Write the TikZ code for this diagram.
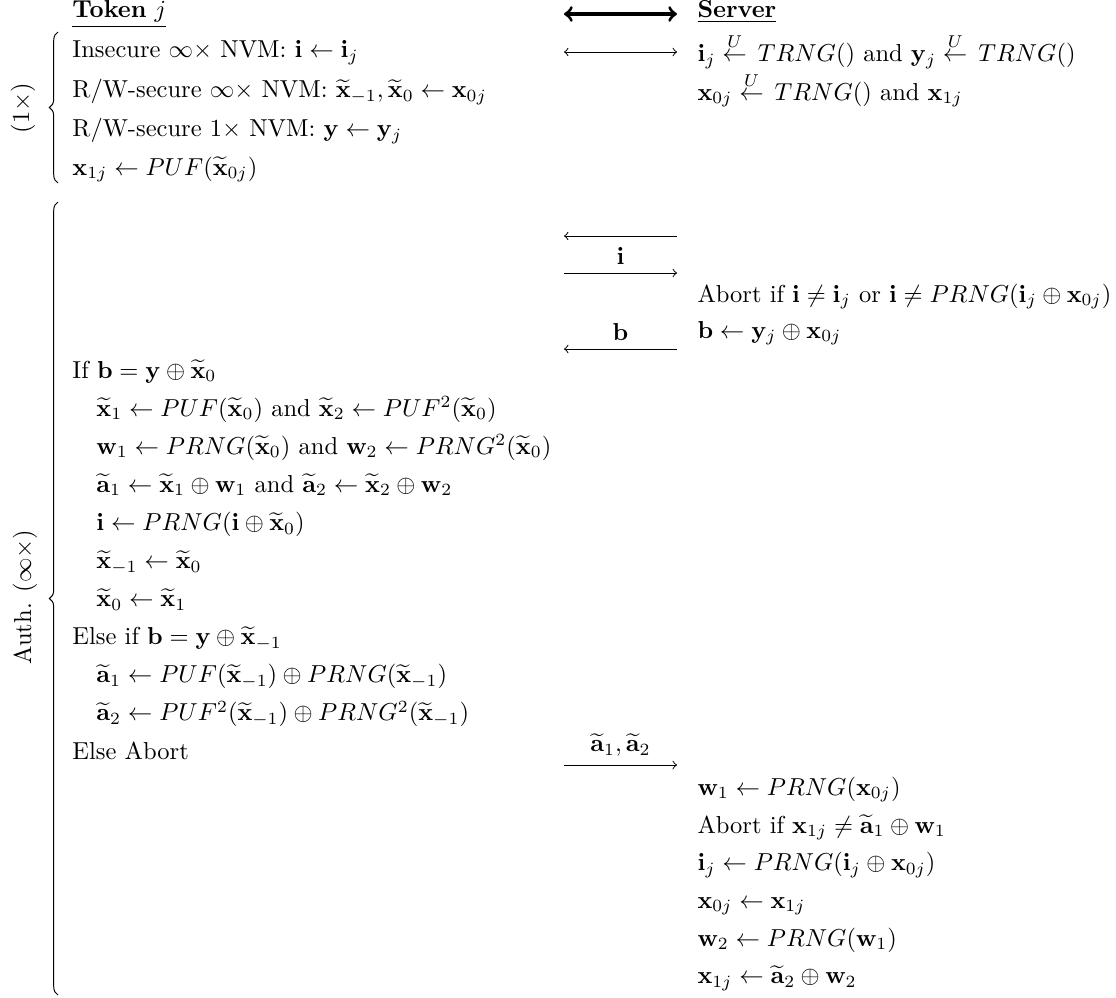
\documentclass[tikz,border=0pt]{standalone}
\usepackage{amsmath,amssymb}
\usetikzlibrary{decorations.pathreplacing}
\newcommand{\pvx}{\mathbf{x}}
\newcommand{\pvi}{\mathbf{i}}
\newcommand{\pvy}{\mathbf{y}}
\newcommand{\pvb}{\mathbf{b}}
\newcommand{\pvw}{\mathbf{w}}
\newcommand{\pvtx}{\widetilde{\mathbf{x}}}
\newcommand{\pvta}{\widetilde{\mathbf{a}}}
\newcommand{\rnd}{\stackrel{U}{\leftarrow}\,}
\begin{document}
\begin{tikzpicture}[x=0.408pt,y=-0.408pt,
  txt/.style={anchor=base west,inner sep=0pt},
  msg/.style={->},
  lbl/.style={above},
  brc/.style={decorate,decoration={brace,amplitude=3.5pt}},
  side/.style={rotate=90,inner sep=0pt}]
\useasboundingbox (0,0) rectangle (1116,997);

% headers
\node[txt] (tok) at (72,18) {\underline{\textbf{Token} $j$}};
\node[txt] (srv) at (697,18) {\underline{\textbf{Server}}};
\coordinate (h0l) at (564,14); \coordinate (h0r) at (677,14);
\draw[<->,line width=1.3pt] (h0l) -- (h0r);

% setup phase
\node[side] (one) at (23,108) {$(1\times)$};
\coordinate (b1b) at (58,183); \coordinate (b1t) at (58,32);
\draw[brc] (b1b) -- (b1t);
\node[txt] (t1) at (72,58) {Insecure $\infty\times$ NVM: $\pvi\leftarrow\pvi_j$};
\node[txt] (t2) at (72,97.5) {R/W-secure $\infty\times$ NVM: $\pvtx_{-1},\pvtx_0\leftarrow\pvx_{0j}$};
\node[txt] (t3) at (72,136.5) {R/W-secure $1\times$ NVM: $\pvy\leftarrow\pvy_j$};
\node[txt] (t4) at (72,175) {$\pvx_{1j}\leftarrow PUF(\pvtx_{0j})$};
\coordinate (s0l) at (564,52); \coordinate (s0r) at (677,52);
\draw[<->] (s0l) -- (s0r);
\node[txt] (s1) at (697,61.5) {$\pvi_j\rnd TRNG()$ and $\pvy_j\rnd TRNG()$};
\node[txt] (s2) at (697,100) {$\pvx_{0j}\rnd TRNG()$ and $\pvx_{1j}$};

% authentication phase
\node[side] (auth) at (25,597) {Auth. $(\infty\times)$};
\coordinate (b2b) at (58,995); \coordinate (b2t) at (58,202);
\draw[brc] (b2b) -- (b2t);

\coordinate (m1l) at (564,236); \coordinate (m1r) at (677,236);
\draw[msg] (m1r) -- (m1l);
\coordinate (m2l) at (564,273); \coordinate (m2r) at (677,273);
\draw[msg] (m2l) -- node[lbl] (m2t) {$\pvi$} (m2r);
\node[txt] (s3) at (697,302) {Abort if $\pvi\neq\pvi_j$ or $\pvi\neq PRNG(\pvi_j\oplus\pvx_{0j})$};
\node[txt] (s4) at (697,338) {$\pvb\leftarrow\pvy_j\oplus\pvx_{0j}$};
\coordinate (m3l) at (564,349); \coordinate (m3r) at (677,349);
\draw[msg] (m3r) -- node[lbl] (m3t) {$\pvb$} (m3l);

\node[txt] (u1) at (72,378) {If $\pvb=\pvy\oplus\pvtx_0$};
\node[txt] (u2) at (96,416.1) {$\pvtx_1\leftarrow PUF(\pvtx_0)$ and $\pvtx_2\leftarrow PUF^2(\pvtx_0)$};
\node[txt] (u3) at (96,454.2) {$\pvw_1\leftarrow PRNG(\pvtx_0)$ and $\pvw_2\leftarrow PRNG^2(\pvtx_0)$};
\node[txt] (u4) at (96,492.3) {$\pvta_1\leftarrow\pvtx_1\oplus\pvw_1$ and $\pvta_2\leftarrow\pvtx_2\oplus\pvw_2$};
\node[txt] (u5) at (96,530.4) {$\pvi\leftarrow PRNG(\pvi\oplus\pvtx_0)$};
\node[txt] (u6) at (96,568.5) {$\pvtx_{-1}\leftarrow\pvtx_0$};
\node[txt] (u7) at (96,606.6) {$\pvtx_0\leftarrow\pvtx_1$};
\node[txt] (u8) at (72,644.7) {Else if $\pvb=\pvy\oplus\pvtx_{-1}$};
\node[txt] (u9) at (96,682.8) {$\pvta_1\leftarrow PUF(\pvtx_{-1})\oplus PRNG(\pvtx_{-1})$};
\node[txt] (u10) at (96,720.9) {$\pvta_2\leftarrow PUF^2(\pvtx_{-1})\oplus PRNG^2(\pvtx_{-1})$};
\node[txt] (u11) at (72,759) {Else Abort};

\coordinate (m4l) at (564,765); \coordinate (m4r) at (677,765);
\draw[msg] (m4l) -- node[lbl] (m4t) {$\pvta_1,\pvta_2$} (m4r);

\node[txt] (v1) at (697,795) {$\pvw_1\leftarrow PRNG(\pvx_{0j})$};
\node[txt] (v2) at (697,833) {Abort if $\pvx_{1j}\neq\pvta_1\oplus\pvw_1$};
\node[txt] (v3) at (697,870.5) {$\pvi_j\leftarrow PRNG(\pvi_j\oplus\pvx_{0j})$};
\node[txt] (v4) at (697,908) {$\pvx_{0j}\leftarrow\pvx_{1j}$};
\node[txt] (v5) at (697,946) {$\pvw_2\leftarrow PRNG(\pvw_1)$};
\node[txt] (v6) at (697,983.5) {$\pvx_{1j}\leftarrow\pvta_2\oplus\pvw_2$};
\end{tikzpicture}
\end{document}
